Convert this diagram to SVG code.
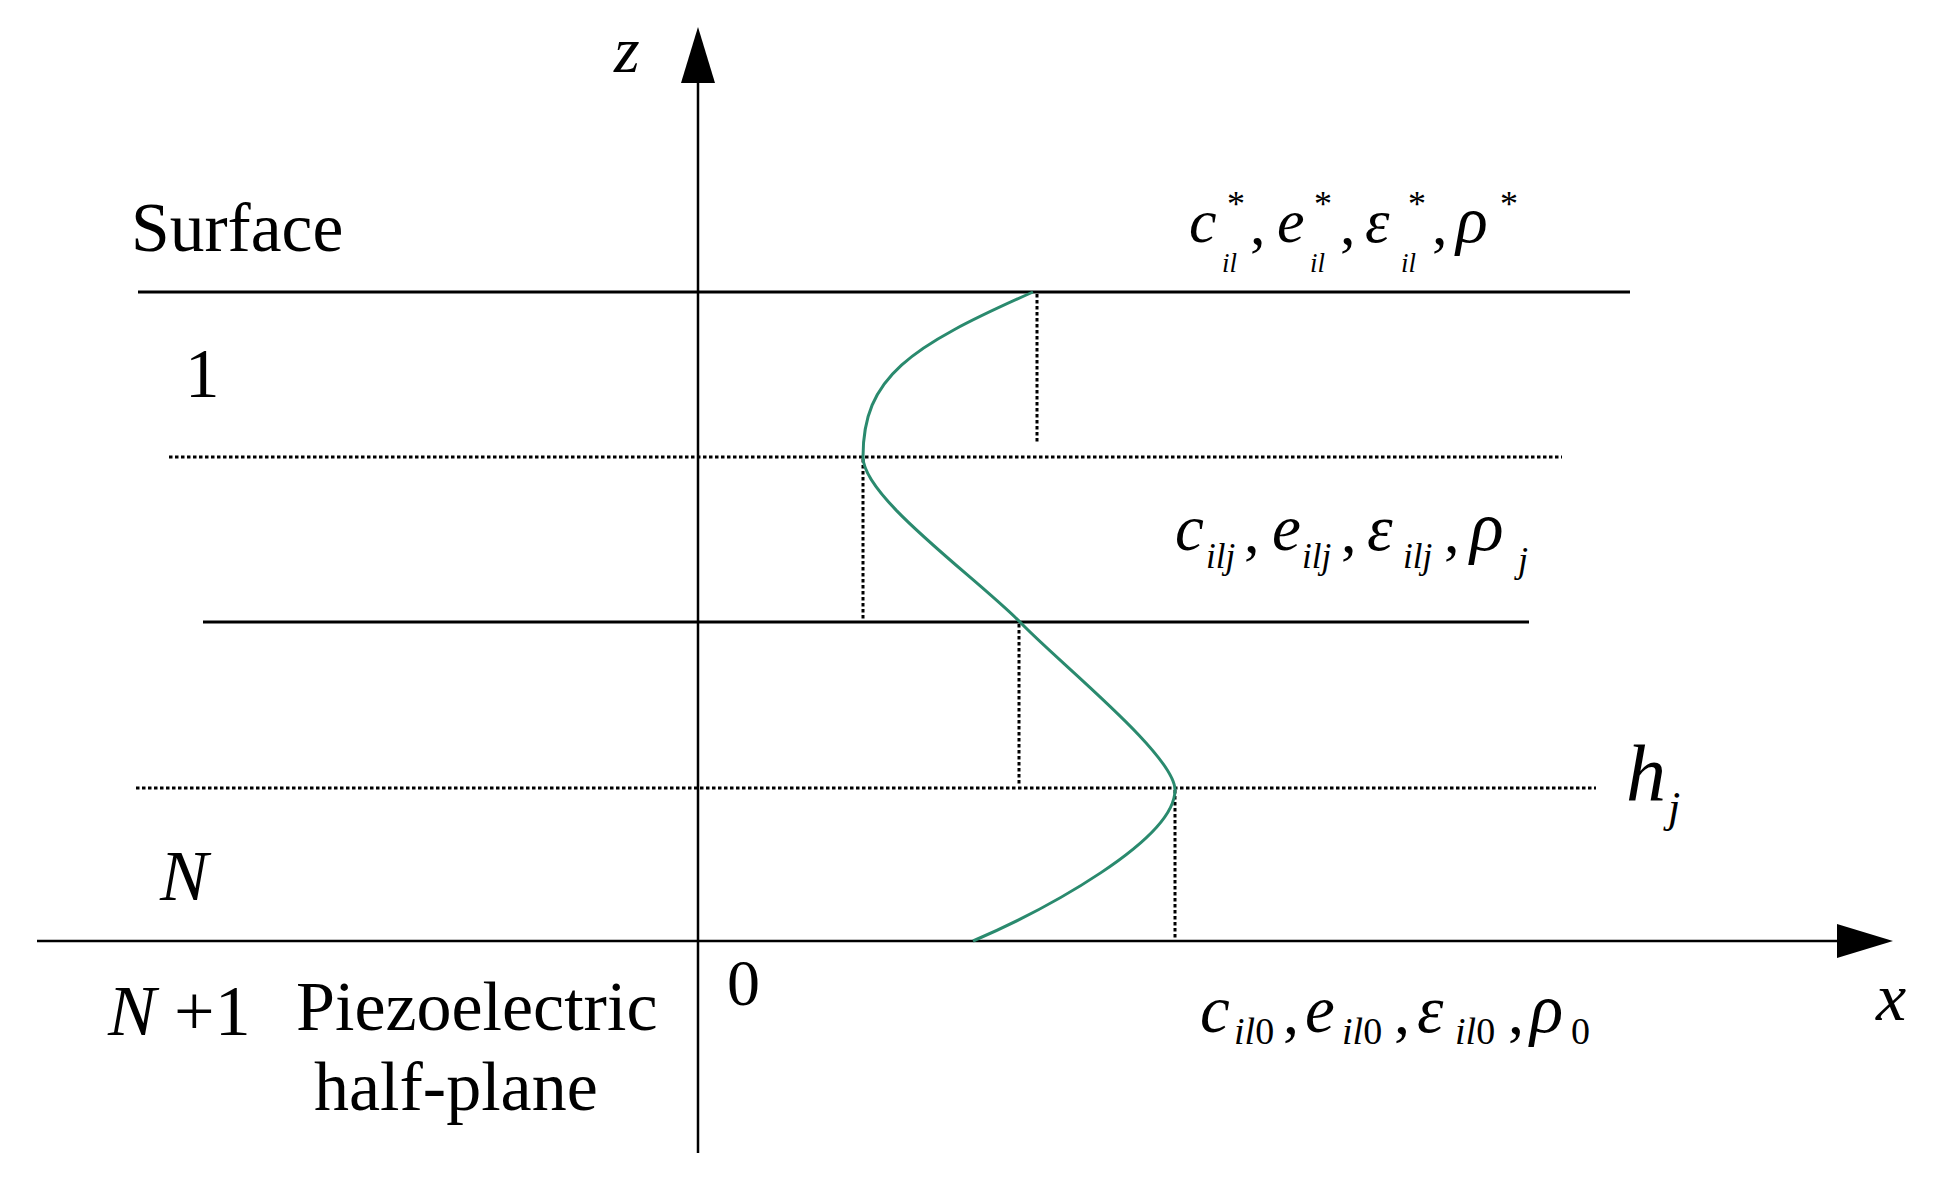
<svg xmlns="http://www.w3.org/2000/svg" width="1933" height="1183" viewBox="0 0 1933 1183">
<style>
.t{font-family:"Liberation Serif","Times New Roman",serif;fill:#000}
.i{font-style:italic}
.solid{stroke:#000;stroke-width:3;fill:none}
.axis{stroke:#000;stroke-width:2.5;fill:none}
.dot{stroke:#000;stroke-width:3;stroke-dasharray:3.5 2.5;fill:none}
.curve{stroke:#2a8a6e;stroke-width:3;fill:none}
</style>
<rect width="1933" height="1183" fill="#fff"/>
<g id="connectors">
<line class="axis" x1="698" y1="1153" x2="698" y2="80"/>
<polygon points="698,27 681,83 715,83" fill="#000"/>
<line class="axis" x1="37" y1="941" x2="1840" y2="941"/>
<polygon points="1893,941 1837,924 1837,958" fill="#000"/>
<line class="solid" x1="138" y1="292" x2="1630" y2="292"/>
<line class="solid" x1="203" y1="622" x2="1529" y2="622"/>
<line class="dot" x1="169" y1="457" x2="1562" y2="457"/>
<line class="dot" x1="136" y1="788" x2="1596" y2="788"/>
<line class="dot" x1="1037" y1="294" x2="1037" y2="443"/>
<line class="dot" x1="863" y1="459" x2="863" y2="622"/>
<line class="dot" x1="1019" y1="624" x2="1019" y2="784"/>
<line class="dot" x1="1175" y1="790" x2="1175" y2="938"/>
<path class="curve" d="M1033,292 C909,347 863,377 863,457 C863,497 973,575 1020,622 C1058,662 1175,755 1175,790 C1175,840 1045,910 973,941"/>
</g>
<g id="labels">
<text class="t i" x="614" y="72" font-size="66">z</text>
<text class="t" x="131" y="251" font-size="69.5">Surface</text>
<text class="t" x="185" y="397" font-size="69">1</text>
<text class="t i" x="160" y="900" font-size="72">N</text>
<text class="t" x="108" y="1035" font-size="72"><tspan font-style="italic">N</tspan> +1</text>
<text class="t" x="296" y="1030" font-size="70">Piezoelectric</text>
<text class="t" x="314" y="1110" font-size="70">half-plane</text>
<text class="t" x="727" y="1005" font-size="66">0</text>
<text class="t i" x="1876" y="1020" font-size="68">x</text>
<text class="t i" x="1626" y="800" font-size="80">h</text>
<text class="t i" x="1668" y="822" font-size="44">j</text>
</g>
<g id="props-surface" class="t">
<text class="i" x="1189" y="242" font-size="62">c</text>
<text x="1227" y="216" font-size="36">*</text>
<text class="i" x="1222" y="272" font-size="27">il</text>
<text x="1250" y="244" font-size="62">,</text>
<text class="i" x="1277" y="242" font-size="62">e</text>
<text x="1314" y="216" font-size="36">*</text>
<text class="i" x="1310" y="272" font-size="27">il</text>
<text x="1340" y="244" font-size="62">,</text>
<text class="i" x="1365" y="242" font-size="62">ε</text>
<text x="1408" y="216" font-size="36">*</text>
<text class="i" x="1401" y="272" font-size="27">il</text>
<text x="1432" y="244" font-size="62">,</text>
<text class="i" x="1456" y="242" font-size="66">ρ</text>
<text x="1500" y="216" font-size="36">*</text>
</g>
<g id="props-layer" class="t">
<text class="i" x="1175" y="550" font-size="65">c</text>
<text class="i" x="1206" y="568" font-size="35">ilj</text>
<text x="1244" y="552" font-size="62">,</text>
<text class="i" x="1272" y="550" font-size="65">e</text>
<text class="i" x="1302" y="568" font-size="35">ilj</text>
<text x="1341" y="552" font-size="62">,</text>
<text class="i" x="1367" y="550" font-size="65">ε</text>
<text class="i" x="1403" y="568" font-size="35">ilj</text>
<text x="1444" y="552" font-size="62">,</text>
<text class="i" x="1470" y="550" font-size="70">ρ</text>
<text class="i" x="1518" y="572" font-size="36">j</text>
</g>
<g id="props-half" class="t">
<text class="i" x="1200" y="1032" font-size="67">c</text>
<text x="1234" y="1044" font-size="38"><tspan font-style="italic">il</tspan>0</text>
<text x="1283" y="1034" font-size="64">,</text>
<text class="i" x="1305" y="1032" font-size="67">e</text>
<text x="1342" y="1044" font-size="38"><tspan font-style="italic">il</tspan>0</text>
<text x="1394" y="1034" font-size="64">,</text>
<text class="i" x="1417" y="1032" font-size="67">ε</text>
<text x="1455" y="1044" font-size="38"><tspan font-style="italic">il</tspan>0</text>
<text x="1508" y="1034" font-size="64">,</text>
<text class="i" x="1530" y="1032" font-size="69">ρ</text>
<text x="1571" y="1044" font-size="38">0</text>
</g>
</svg>
